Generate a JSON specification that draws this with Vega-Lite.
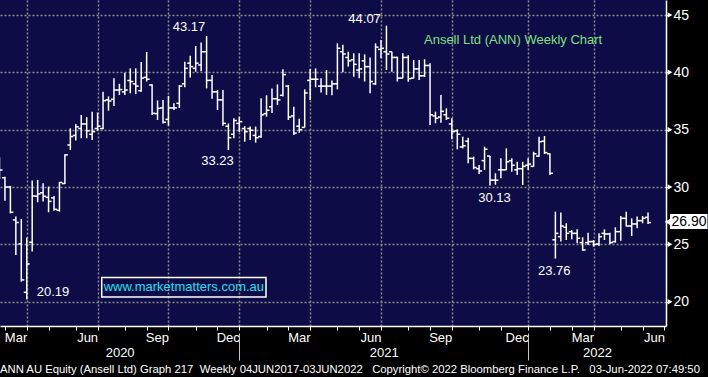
{
 "$schema": "https://vega.github.io/schema/vega-lite/v6.json",
 "width": 666, "height": 326,
 "autosize": "none",
 "padding": {"left": 0, "top": 0, "right": 42, "bottom": 51},
 "background": "#000000",
 "config": {"view": {"stroke": null, "fill": "#0e0c46"}},
 "title": {"text": "ANN AU Equity (Ansell Ltd) Graph 217 \u00a0Weekly 04JUN2017-03JUN2022 \u00a0\u00a0Copyright© 2022 Bloomberg Finance L.P. \u00a0\u00a003-Jun-2022 07:49:50", "orient": "bottom", "anchor": "start", "frame": "group", "offset": 3, "fontSize": 11.3, "font": "Liberation Sans", "fontWeight": "normal", "color": "#ffffff"},
 "datasets": {
  "ohlc": [
   {"d":"2020-02-21","o":32.3,"h":32.59,"l":30.67,"c":31.49},
   {"d":"2020-02-28","o":30.8,"h":30.9,"l":28.8,"c":30.0},
   {"d":"2020-03-06","o":30.0,"h":30.1,"l":27.7,"c":27.8},
   {"d":"2020-03-13","o":27.13,"h":27.42,"l":24.08,"c":26.9},
   {"d":"2020-03-20","o":25.04,"h":27.22,"l":21.75,"c":21.9},
   {"d":"2020-03-27","o":20.82,"h":25.59,"l":20.19,"c":23.29},
   {"d":"2020-04-03","o":25.18,"h":30.56,"l":24.37,"c":29.22},
   {"d":"2020-04-10","o":29.2,"h":30.62,"l":28.67,"c":29.4},
   {"d":"2020-04-17","o":29.5,"h":30.33,"l":28.73,"c":29.2},
   {"d":"2020-04-24","o":29.1,"h":30.04,"l":27.8,"c":28.75},
   {"d":"2020-05-01","o":29.05,"h":29.22,"l":27.94,"c":28.06},
   {"d":"2020-05-08","o":27.98,"h":30.44,"l":27.85,"c":30.4},
   {"d":"2020-05-15","o":30.3,"h":32.86,"l":30.27,"c":32.8},
   {"d":"2020-05-22","o":33.67,"h":35.12,"l":33.23,"c":34.4},
   {"d":"2020-05-29","o":34.5,"h":35.5,"l":34.05,"c":35.25},
   {"d":"2020-06-05","o":35.1,"h":36.28,"l":34.25,"c":35.5},
   {"d":"2020-06-12","o":35.5,"h":36.1,"l":34.25,"c":34.9},
   {"d":"2020-06-19","o":34.6,"h":36.57,"l":34.1,"c":34.83},
   {"d":"2020-06-26","o":35.1,"h":36.5,"l":34.9,"c":35.3},
   {"d":"2020-07-03","o":35.1,"h":38.3,"l":35.03,"c":37.53},
   {"d":"2020-07-10","o":37.6,"h":37.9,"l":36.66,"c":37.5},
   {"d":"2020-07-17","o":37.65,"h":39.48,"l":37.07,"c":38.46},
   {"d":"2020-07-24","o":38.46,"h":39.0,"l":38.03,"c":38.5},
   {"d":"2020-07-31","o":38.3,"h":39.97,"l":38.03,"c":38.46},
   {"d":"2020-08-07","o":39.3,"h":40.35,"l":38.17,"c":39.2},
   {"d":"2020-08-14","o":39.0,"h":40.35,"l":38.1,"c":38.8},
   {"d":"2020-08-21","o":38.4,"h":40.9,"l":38.3,"c":39.5},
   {"d":"2020-08-28","o":39.57,"h":41.78,"l":39.2,"c":39.4},
   {"d":"2020-09-04","o":38.9,"h":38.96,"l":36.28,"c":36.43},
   {"d":"2020-09-11","o":36.4,"h":37.55,"l":35.85,"c":36.86},
   {"d":"2020-09-18","o":36.9,"h":37.59,"l":35.55,"c":35.65},
   {"d":"2020-09-25","o":35.9,"h":37.95,"l":35.35,"c":36.9},
   {"d":"2020-10-02","o":36.9,"h":37.3,"l":36.72,"c":36.9},
   {"d":"2020-10-09","o":37.3,"h":38.9,"l":36.9,"c":38.8},
   {"d":"2020-10-16","o":39.0,"h":40.93,"l":38.7,"c":40.35},
   {"d":"2020-10-23","o":40.8,"h":41.45,"l":39.55,"c":40.5},
   {"d":"2020-10-30","o":40.35,"h":42.3,"l":40.06,"c":40.8},
   {"d":"2020-11-06","o":40.64,"h":42.6,"l":40.1,"c":41.8},
   {"d":"2020-11-13","o":41.8,"h":43.17,"l":38.6,"c":39.3},
   {"d":"2020-11-20","o":39.3,"h":39.77,"l":37.7,"c":38.3},
   {"d":"2020-11-27","o":38.3,"h":38.46,"l":36.72,"c":37.6},
   {"d":"2020-12-04","o":37.6,"h":38.46,"l":35.35,"c":35.55},
   {"d":"2020-12-11","o":35.3,"h":35.55,"l":33.23,"c":34.3},
   {"d":"2020-12-18","o":34.6,"h":36.0,"l":34.25,"c":35.8},
   {"d":"2020-12-25","o":35.55,"h":36.14,"l":34.8,"c":35.7},
   {"d":"2021-01-01","o":35.1,"h":35.3,"l":33.95,"c":34.83},
   {"d":"2021-01-08","o":35.1,"h":35.27,"l":34.1,"c":34.95},
   {"d":"2021-01-15","o":34.5,"h":35.27,"l":33.87,"c":34.3},
   {"d":"2021-01-22","o":34.4,"h":37.74,"l":34.3,"c":36.3},
   {"d":"2021-01-29","o":36.4,"h":38.0,"l":36.14,"c":36.7},
   {"d":"2021-02-05","o":37.0,"h":38.6,"l":36.45,"c":37.7},
   {"d":"2021-02-12","o":37.7,"h":38.95,"l":37.15,"c":37.6},
   {"d":"2021-02-19","o":38.0,"h":40.27,"l":37.9,"c":39.8},
   {"d":"2021-02-26","o":38.8,"h":38.9,"l":35.85,"c":36.1},
   {"d":"2021-03-05","o":36.2,"h":37.0,"l":34.54,"c":34.7},
   {"d":"2021-03-12","o":35.3,"h":35.95,"l":34.74,"c":35.0},
   {"d":"2021-03-19","o":35.2,"h":38.52,"l":35.2,"c":38.2},
   {"d":"2021-03-26","o":39.3,"h":40.29,"l":37.59,"c":39.4},
   {"d":"2021-04-02","o":39.4,"h":40.35,"l":38.7,"c":39.4},
   {"d":"2021-04-09","o":38.8,"h":39.48,"l":38.25,"c":38.8},
   {"d":"2021-04-16","o":38.8,"h":40.2,"l":38.03,"c":38.8},
   {"d":"2021-04-23","o":38.8,"h":39.3,"l":38.0,"c":39.0},
   {"d":"2021-04-30","o":39.0,"h":42.53,"l":38.52,"c":42.1},
   {"d":"2021-05-07","o":41.8,"h":42.4,"l":40.0,"c":41.6},
   {"d":"2021-05-14","o":41.3,"h":41.8,"l":40.5,"c":41.0},
   {"d":"2021-05-21","o":41.1,"h":41.66,"l":39.62,"c":40.7},
   {"d":"2021-05-28","o":40.2,"h":41.66,"l":39.48,"c":40.3},
   {"d":"2021-06-04","o":41.0,"h":41.57,"l":39.2,"c":40.5},
   {"d":"2021-06-11","o":40.5,"h":41.3,"l":38.17,"c":39.2},
   {"d":"2021-06-18","o":39.0,"h":42.53,"l":38.9,"c":42.2},
   {"d":"2021-06-25","o":42.0,"h":42.82,"l":41.22,"c":42.1},
   {"d":"2021-07-02","o":41.8,"h":44.07,"l":40.2,"c":41.6},
   {"d":"2021-07-09","o":41.8,"h":41.8,"l":40.06,"c":41.3},
   {"d":"2021-07-16","o":41.3,"h":41.37,"l":39.2,"c":39.5},
   {"d":"2021-07-23","o":39.5,"h":41.66,"l":39.48,"c":41.3},
   {"d":"2021-07-30","o":41.3,"h":41.5,"l":39.19,"c":39.45},
   {"d":"2021-08-06","o":39.5,"h":41.08,"l":39.48,"c":40.3},
   {"d":"2021-08-13","o":40.3,"h":41.08,"l":39.33,"c":39.7},
   {"d":"2021-08-20","o":39.7,"h":41.14,"l":39.6,"c":40.6},
   {"d":"2021-08-27","o":40.6,"h":40.79,"l":35.41,"c":36.3},
   {"d":"2021-09-03","o":36.2,"h":36.57,"l":35.56,"c":36.0},
   {"d":"2021-09-10","o":36.1,"h":38.03,"l":35.6,"c":36.6},
   {"d":"2021-09-17","o":36.3,"h":36.86,"l":35.85,"c":36.0},
   {"d":"2021-09-24","o":35.5,"h":35.99,"l":34.16,"c":34.83},
   {"d":"2021-10-01","o":34.9,"h":35.03,"l":33.29,"c":34.6},
   {"d":"2021-10-08","o":33.5,"h":34.39,"l":33.37,"c":33.6},
   {"d":"2021-10-15","o":34.0,"h":34.3,"l":32.07,"c":32.5},
   {"d":"2021-10-22","o":32.5,"h":32.65,"l":31.54,"c":31.7},
   {"d":"2021-10-29","o":31.6,"h":31.92,"l":31.14,"c":31.4},
   {"d":"2021-11-05","o":32.3,"h":33.52,"l":31.48,"c":33.3},
   {"d":"2021-11-12","o":32.7,"h":32.7,"l":30.13,"c":30.6},
   {"d":"2021-11-19","o":30.6,"h":31.2,"l":30.2,"c":30.6},
   {"d":"2021-11-26","o":31.5,"h":32.5,"l":30.76,"c":31.5},
   {"d":"2021-12-03","o":31.5,"h":33.37,"l":31.48,"c":32.2},
   {"d":"2021-12-10","o":32.3,"h":32.5,"l":31.34,"c":31.9},
   {"d":"2021-12-17","o":31.5,"h":32.21,"l":31.05,"c":31.6},
   {"d":"2021-12-24","o":31.6,"h":32.2,"l":30.18,"c":31.8},
   {"d":"2021-12-31","o":31.9,"h":32.5,"l":31.48,"c":32.0},
   {"d":"2022-01-07","o":31.8,"h":33.08,"l":31.77,"c":32.9},
   {"d":"2022-01-14","o":32.7,"h":34.39,"l":32.65,"c":33.95},
   {"d":"2022-01-21","o":34.0,"h":34.45,"l":32.88,"c":33.0},
   {"d":"2022-01-28","o":32.9,"h":32.94,"l":31.05,"c":31.2},
   {"d":"2022-02-04","o":25.4,"h":27.85,"l":23.76,"c":25.96},
   {"d":"2022-02-11","o":25.67,"h":27.77,"l":25.24,"c":26.6},
   {"d":"2022-02-18","o":26.49,"h":26.84,"l":25.38,"c":25.96},
   {"d":"2022-02-25","o":26.11,"h":26.25,"l":25.44,"c":25.96},
   {"d":"2022-03-04","o":25.96,"h":26.31,"l":25.09,"c":25.53},
   {"d":"2022-03-11","o":25.15,"h":25.62,"l":24.45,"c":24.51},
   {"d":"2022-03-18","o":25.15,"h":26.02,"l":24.95,"c":25.24},
   {"d":"2022-03-25","o":25.24,"h":25.38,"l":24.8,"c":25.0},
   {"d":"2022-04-01","o":25.03,"h":25.96,"l":24.86,"c":25.67},
   {"d":"2022-04-08","o":25.96,"h":26.31,"l":25.38,"c":25.9},
   {"d":"2022-04-15","o":25.9,"h":26.02,"l":25.03,"c":25.15},
   {"d":"2022-04-22","o":25.24,"h":26.49,"l":25.15,"c":26.11},
   {"d":"2022-04-29","o":26.11,"h":27.47,"l":25.32,"c":27.27},
   {"d":"2022-05-06","o":27.27,"h":27.85,"l":26.55,"c":26.6},
   {"d":"2022-05-13","o":26.6,"h":27.27,"l":25.73,"c":26.78},
   {"d":"2022-05-20","o":26.78,"h":27.42,"l":26.4,"c":27.07},
   {"d":"2022-05-27","o":27.07,"h":27.47,"l":26.84,"c":27.27},
   {"d":"2022-06-03","o":27.36,"h":27.77,"l":26.78,"c":26.9}
  ],
  "lows_highs": [
   {"d":"2020-10-21T10:00:00Z","p":43.95,"t":"43.17"},
   {"d":"2020-11-27T00:00:00Z","p":32.23,"t":"33.23"},
   {"d":"2020-04-29T17:00:00Z","p":20.81,"t":"20.19"},
   {"d":"2021-06-03T22:00:00Z","p":44.65,"t":"44.07"},
   {"d":"2021-11-17T19:00:00Z","p":29.05,"t":"30.13"},
   {"d":"2022-02-02T12:00:00Z","p":22.68,"t":"23.76"}
  ],
  "ticks_y": [{"p":20},{"p":25},{"p":30},{"p":35},{"p":40},{"p":45}]
 },
 "resolve": {"axis": {"x": "independent"}},
 "layer": [
  {
   "data": {"name": "ohlc"},
   "mark": {"type": "rule", "color": "#ffffff", "strokeWidth": 1.5},
   "encoding": {
    "x": {"field": "d", "type": "temporal",
     "scale": {"type": "utc", "nice": false, "domain": [{"year":2020,"month":2,"date":21,"hours":15,"minutes":25,"utc":true},{"year":2022,"month":6,"date":26,"hours":1,"minutes":40,"utc":true}]},
     "axis": {
      "orient": "bottom",
      "values": [
       {"year":2020,"month":2,"date":28,"utc":true},{"year":2020,"month":3,"date":27,"utc":true},{"year":2020,"month":4,"date":24,"utc":true},{"year":2020,"month":5,"date":29,"utc":true},{"year":2020,"month":6,"date":26,"utc":true},{"year":2020,"month":7,"date":31,"utc":true},{"year":2020,"month":8,"date":28,"utc":true},{"year":2020,"month":9,"date":25,"utc":true},{"year":2020,"month":10,"date":30,"utc":true},{"year":2020,"month":11,"date":27,"utc":true},{"year":2020,"month":12,"date":25,"utc":true},
       {"year":2021,"month":1,"date":29,"utc":true},{"year":2021,"month":2,"date":26,"utc":true},{"year":2021,"month":3,"date":26,"utc":true},{"year":2021,"month":4,"date":30,"utc":true},{"year":2021,"month":5,"date":28,"utc":true},{"year":2021,"month":6,"date":25,"utc":true},{"year":2021,"month":7,"date":30,"utc":true},{"year":2021,"month":8,"date":27,"utc":true},{"year":2021,"month":9,"date":24,"utc":true},{"year":2021,"month":10,"date":29,"utc":true},{"year":2021,"month":11,"date":26,"utc":true},{"year":2021,"month":12,"date":31,"utc":true},
       {"year":2022,"month":1,"date":28,"utc":true},{"year":2022,"month":2,"date":25,"utc":true},{"year":2022,"month":3,"date":25,"utc":true},{"year":2022,"month":4,"date":29,"utc":true},{"year":2022,"month":5,"date":27,"utc":true},{"year":2022,"month":6,"date":24,"utc":true}
      ],
      "labelExpr": "(utcmonth(datum.value)+1)%3==0 ? utcFormat(datum.value,'%b') : ''",
      "labelAlign": "right", "labelBaseline": "top", "labelPadding": 1, "labelFontSize": 13,
      "labelFont": "Liberation Sans",
      "labelColor": "#ffffff", "labelOverlap": false, "labelFlush": false,
      "tickSize": 4, "tickColor": "#ffffff", "tickWidth": 1,
      "domainColor": "#ffffff", "domainWidth": 1.5,
      "grid": true, "gridColor": "#8c8c8c", "gridDash": [2, 2], "gridWidth": 1.5,
      "gridOpacity": {"condition": {"test": "(utcmonth(datum.value)+1)%3==0 && datum.value < 1655500000000", "value": 1}, "value": 0},
      "title": null
     }
    },
    "y": {"field": "l", "type": "quantitative",
     "scale": {"domain": [17.88, 46.31], "nice": false, "zero": false},
     "axis": {
      "orient": "right", "values": [20, 22.5, 25, 27.5, 30, 32.5, 35, 37.5, 40, 42.5, 45],
      "labelExpr": "datum.value % 5 == 0 ? datum.label : ''",
      "labelFontSize": 14, "labelFont": "Liberation Sans", "labelColor": "#ffffff",
      "labelPadding": 3, "labelBaseline": "middle", "labelOverlap": false, "labelFlush": false,
      "tickSize": 4, "tickColor": "#ffffff", "tickWidth": 1,
      "domainColor": "#ffffff", "domainWidth": 1.5,
      "grid": true, "gridColor": "#8c8c8c", "gridDash": [2, 2], "gridWidth": 1.5,
      "gridOpacity": {"condition": {"test": "datum.value % 5 == 0", "value": 1}, "value": 0},
      "title": null
     }
    },
    "y2": {"field": "h"}
   }
  },
  {
   "data": {"name": "ohlc"},
   "mark": {"type": "tick", "orient": "horizontal", "size": 3, "thickness": 1.5, "xOffset": -1.5, "color": "#ffffff", "opacity": 1},
   "encoding": {
    "x": {"field": "d", "type": "temporal",
     "scale": {"type": "utc", "nice": false, "domain": [{"year":2020,"month":2,"date":21,"hours":15,"minutes":25,"utc":true},{"year":2022,"month":6,"date":26,"hours":1,"minutes":40,"utc":true}]},
     "axis": {
      "orient": "bottom",
      "values": [{"year":2020,"month":7,"date":24,"hours":7,"utc":true},{"year":2021,"month":6,"date":28,"hours":12,"utc":true},{"year":2022,"month":3,"date":29,"hours":10,"utc":true}],
      "labelExpr": "utcFormat(datum.value,'%Y')",
      "labelAlign": "center", "labelBaseline": "top", "labelPadding": 20, "labelFontSize": 13,
      "labelFont": "Liberation Sans",
      "labelColor": "#ffffff", "labelOverlap": false, "labelFlush": false,
      "domain": false, "ticks": false, "tickSize": 0, "grid": false, "title": null
     }
    },
    "y": {"field": "o", "type": "quantitative", "scale": {"domain": [17.88, 46.31], "nice": false, "zero": false}}
   }
  },
  {
   "data": {"name": "ohlc"},
   "mark": {"type": "tick", "orient": "horizontal", "size": 3, "thickness": 1.5, "xOffset": 1.5, "color": "#ffffff", "opacity": 1},
   "encoding": {
    "x": {"field": "d", "type": "temporal",
     "scale": {"type": "utc", "nice": false, "domain": [{"year":2020,"month":2,"date":21,"hours":15,"minutes":25,"utc":true},{"year":2022,"month":6,"date":26,"hours":1,"minutes":40,"utc":true}]},
     "axis": {
      "orient": "bottom",
      "values": [{"year":2020,"month":12,"date":25,"utc":true},{"year":2021,"month":12,"date":31,"utc":true}],
      "labels": false, "domain": false, "grid": false, "ticks": true,
      "tickSize": 27, "tickColor": "#c8c8c8", "tickWidth": 1, "offset": 7, "title": null
     }
    },
    "y": {"field": "c", "type": "quantitative", "scale": {"domain": [17.88, 46.31], "nice": false, "zero": false}}
   }
  },
  {
   "data": {"name": "lows_highs"},
   "mark": {"type": "text", "color": "#ffffff", "fontSize": 13, "font": "Liberation Sans", "align": "center", "baseline": "middle"},
   "encoding": {
    "x": {"field": "d", "type": "temporal", "axis": null,
     "scale": {"type": "utc", "nice": false, "domain": [{"year":2020,"month":2,"date":21,"hours":15,"minutes":25,"utc":true},{"year":2022,"month":6,"date":26,"hours":1,"minutes":40,"utc":true}]}},
    "y": {"field": "p", "type": "quantitative", "scale": {"domain": [17.88, 46.31], "nice": false, "zero": false}},
    "text": {"field": "t"}
   }
  },
  {
   "data": {"values": [{"d": "2021-08-19T05:00:00Z", "p": 42.86, "t": "Ansell Ltd (ANN) Weekly Chart"}]},
   "mark": {"type": "text", "color": "#7fe07f", "fontSize": 13, "font": "Liberation Sans", "align": "left", "baseline": "middle"},
   "encoding": {
    "x": {"field": "d", "type": "temporal", "axis": null,
     "scale": {"type": "utc", "nice": false, "domain": [{"year":2020,"month":2,"date":21,"hours":15,"minutes":25,"utc":true},{"year":2022,"month":6,"date":26,"hours":1,"minutes":40,"utc":true}]}},
    "y": {"field": "p", "type": "quantitative", "scale": {"domain": [17.88, 46.31], "nice": false, "zero": false}},
    "text": {"field": "t"}
   }
  },
  {
   "data": {"values": [{"d1": "2020-07-01T07:00:00Z", "d2": "2021-01-28T07:00:00Z", "p1": 20.41, "p2": 22.10}]},
   "mark": {"type": "rect", "fillOpacity": 0, "stroke": "#ffffff", "strokeWidth": 1.5},
   "encoding": {
    "x": {"field": "d1", "type": "temporal", "axis": null,
     "scale": {"type": "utc", "nice": false, "domain": [{"year":2020,"month":2,"date":21,"hours":15,"minutes":25,"utc":true},{"year":2022,"month":6,"date":26,"hours":1,"minutes":40,"utc":true}]}},
    "x2": {"field": "d2"},
    "y": {"field": "p1", "type": "quantitative", "scale": {"domain": [17.88, 46.31], "nice": false, "zero": false}},
    "y2": {"field": "p2"}
   }
  },
  {
   "data": {"values": [{"d": "2020-10-14T19:00:00Z", "p": 21.26, "t": "www.marketmatters.com.au"}]},
   "mark": {"type": "text", "color": "#22e0f0", "fontSize": 13, "font": "Liberation Sans", "align": "center", "baseline": "middle"},
   "encoding": {
    "x": {"field": "d", "type": "temporal", "axis": null,
     "scale": {"type": "utc", "nice": false, "domain": [{"year":2020,"month":2,"date":21,"hours":15,"minutes":25,"utc":true},{"year":2022,"month":6,"date":26,"hours":1,"minutes":40,"utc":true}]}},
    "y": {"field": "p", "type": "quantitative", "scale": {"domain": [17.88, 46.31], "nice": false, "zero": false}},
    "text": {"field": "t"}
   }
  },
  {
   "data": {"name": "ticks_y"},
   "mark": {"type": "point", "shape": "triangle-right", "filled": true, "size": 30, "color": "#ffffff", "opacity": 1},
   "encoding": {
    "x": {"datum": {"year":2022,"month":7,"date":1,"hours":5,"utc":true}, "type": "temporal", "axis": null,
     "scale": {"type": "utc", "nice": false, "domain": [{"year":2020,"month":2,"date":21,"hours":15,"minutes":25,"utc":true},{"year":2022,"month":6,"date":26,"hours":1,"minutes":40,"utc":true}]}},
    "y": {"field": "p", "type": "quantitative", "scale": {"domain": [17.88, 46.31], "nice": false, "zero": false}}
   }
  },
  {
   "data": {"values": [{"d1": "2022-07-01T05:00:00Z", "d2": "2022-08-18T09:00:00Z", "p1": 26.34, "p2": 27.65}]},
   "mark": {"type": "rect", "color": "#ffffff", "opacity": 1},
   "encoding": {
    "x": {"field": "d1", "type": "temporal", "axis": null,
     "scale": {"type": "utc", "nice": false, "domain": [{"year":2020,"month":2,"date":21,"hours":15,"minutes":25,"utc":true},{"year":2022,"month":6,"date":26,"hours":1,"minutes":40,"utc":true}]}},
    "x2": {"field": "d2"},
    "y": {"field": "p1", "type": "quantitative", "scale": {"domain": [17.88, 46.31], "nice": false, "zero": false}},
    "y2": {"field": "p2"}
   }
  },
  {
   "data": {"values": [{"d": "2022-06-28T15:30:00Z", "p": 26.95}]},
   "mark": {"type": "point", "shape": "triangle-left", "filled": true, "size": 60, "color": "#ffffff", "opacity": 1},
   "encoding": {
    "x": {"field": "d", "type": "temporal", "axis": null,
     "scale": {"type": "utc", "nice": false, "domain": [{"year":2020,"month":2,"date":21,"hours":15,"minutes":25,"utc":true},{"year":2022,"month":6,"date":26,"hours":1,"minutes":40,"utc":true}]}},
    "y": {"field": "p", "type": "quantitative", "scale": {"domain": [17.88, 46.31], "nice": false, "zero": false}}
   }
  },
  {
   "data": {"values": [{"d": "2022-07-25T14:00:00Z", "p": 26.95, "t": "26.90"}]},
   "mark": {"type": "text", "color": "#000000", "fontSize": 14, "font": "Liberation Sans", "align": "center", "baseline": "middle"},
   "encoding": {
    "x": {"field": "d", "type": "temporal", "axis": null,
     "scale": {"type": "utc", "nice": false, "domain": [{"year":2020,"month":2,"date":21,"hours":15,"minutes":25,"utc":true},{"year":2022,"month":6,"date":26,"hours":1,"minutes":40,"utc":true}]}},
    "y": {"field": "p", "type": "quantitative", "scale": {"domain": [17.88, 46.31], "nice": false, "zero": false}},
    "text": {"field": "t"}
   }
  }
 ]
}
